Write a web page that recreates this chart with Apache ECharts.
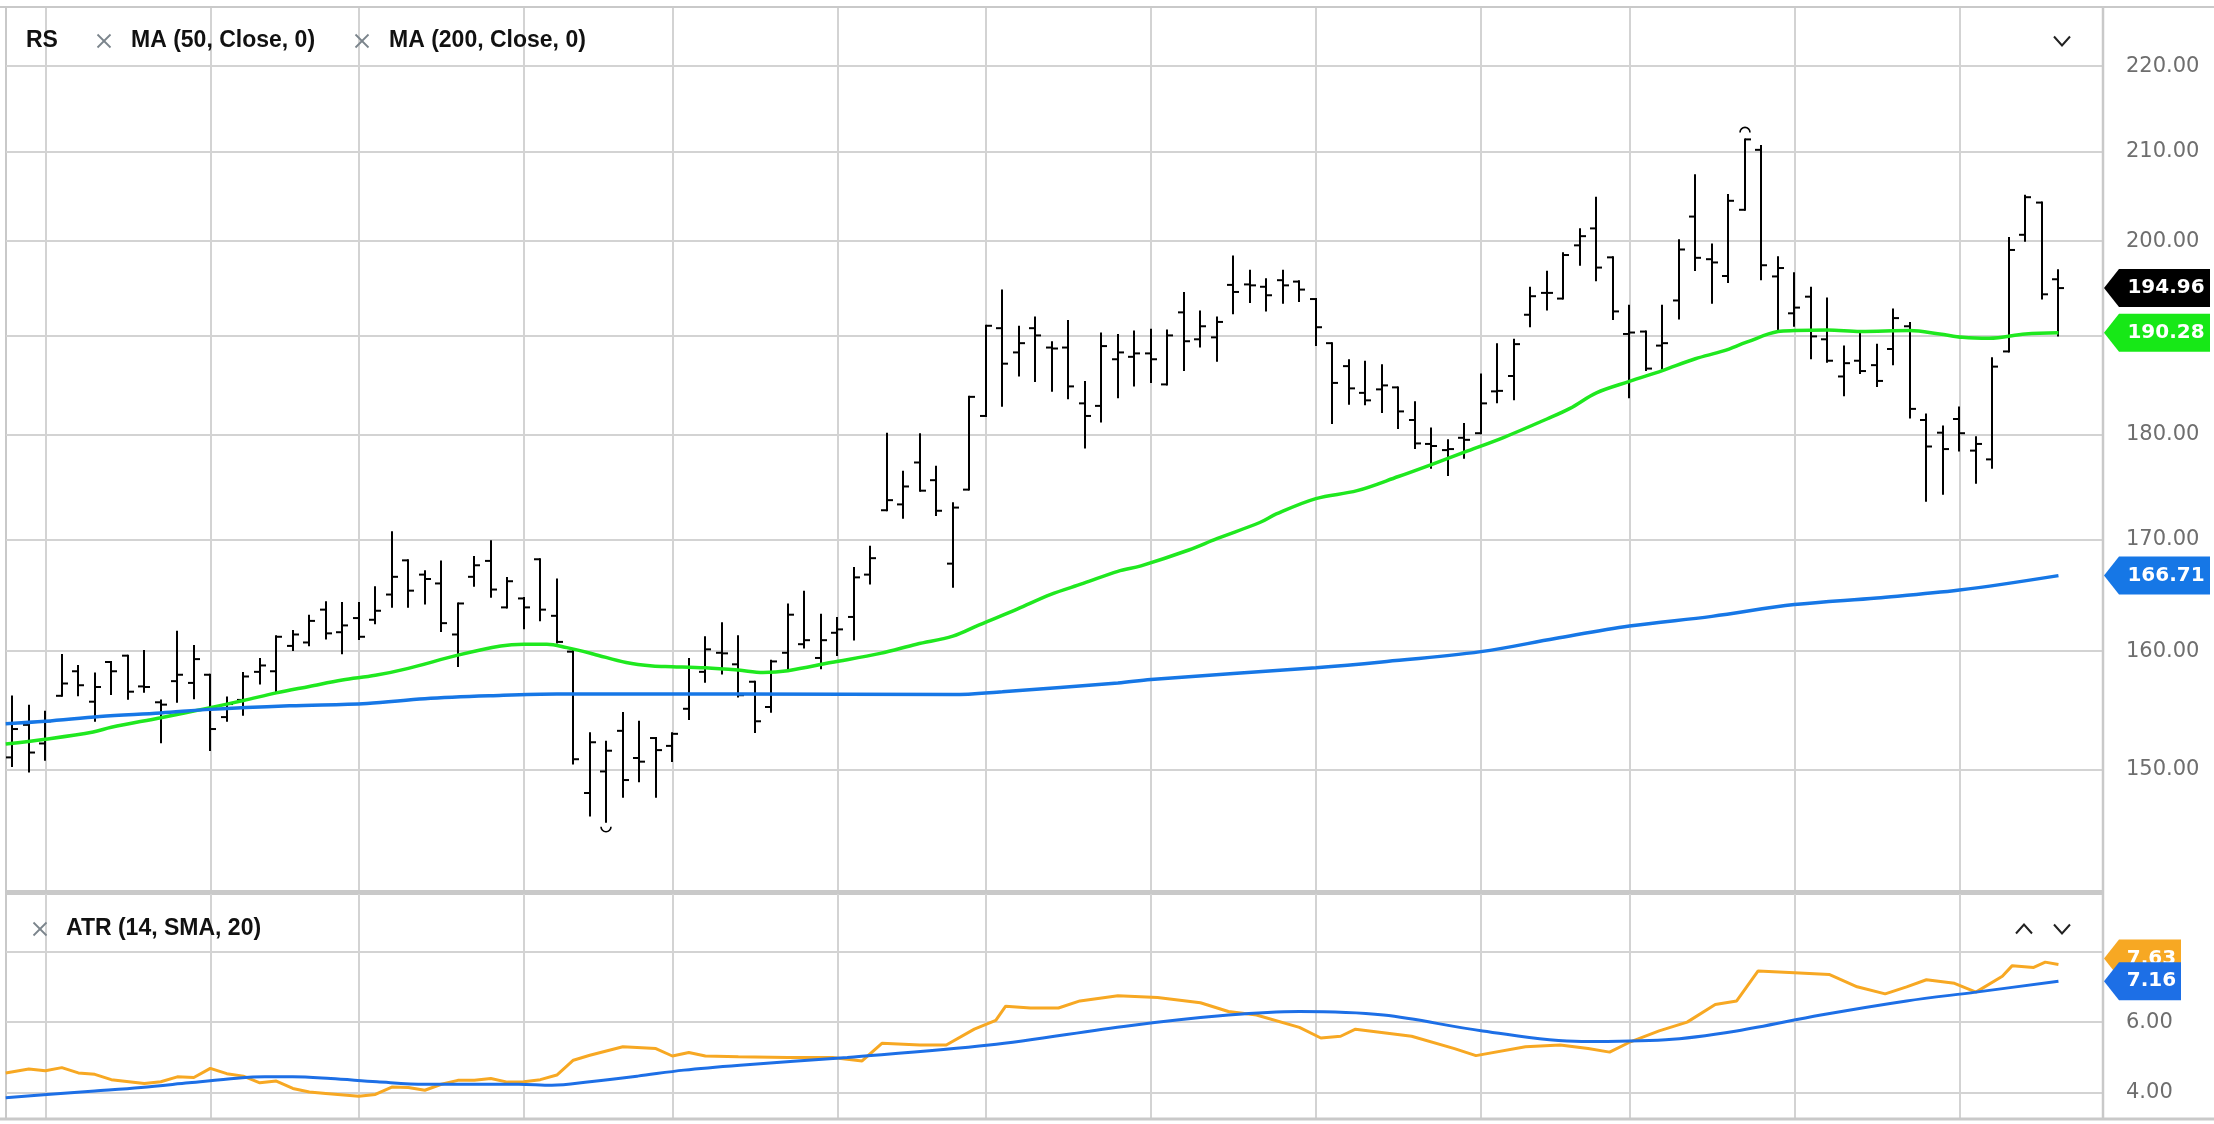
<!DOCTYPE html>
<html><head><meta charset="utf-8">
<script src="https://cdn.jsdelivr.net/npm/echarts@6/dist/echarts.min.js"></script>
<style>html,body{margin:0;padding:0;background:#fff;overflow:hidden}#c{width:2214px;height:1124px}</style>
</head><body><div id="c"></div>
<script>
// ---- Data (bar index 0..124) ----
const opens = [151.0,153.7,152.15,156.15,158.25,155.65,159.05,159.6,156.95,155.6,157.4,157.25,157.95,154.35,155.8,158.2,158.25,160.45,160.75,163.65,161.65,162.9,162.75,165.0,168.1,166.8,166.0,161.45,166.6,168.05,163.85,164.65,168.2,163.1,159.95,148.1,149.85,153.2,150.95,152.6,151.95,155.05,158.2,159.85,158.85,157.35,155.2,159.85,160.6,159.4,161.6,163.0,166.8,172.75,173.3,177.3,175.6,167.8,174.7,181.85,190.75,188.25,190.75,188.75,188.75,183.1,182.85,187.55,187.8,188.15,185.0,192.4,189.6,189.8,195.3,195.35,195.1,195.8,195.65,193.8,189.2,186.85,184.15,184.5,184.7,181.45,179.1,178.5,179.7,180.15,184.3,185.85,192.15,194.45,193.85,199.55,201.4,198.25,190.15,190.4,188.95,193.65,202.7,198.05,196.25,203.45,210.2,196.2,192.3,194.05,189.6,185.8,187.4,186.95,188.6,190.95,181.45,180.2,181.55,178.45,177.6,188.35,200.7,204.25,195.9];
const highs = [156.1,155.3,154.8,159.65,158.7,158.05,159.05,159.6,160.0,155.75,161.7,160.45,157.95,156.0,158.1,159.3,161.3,161.75,163.1,164.3,164.25,164.25,165.65,170.7,168.1,167.1,168.0,164.2,168.4,169.85,166.5,164.7,168.2,166.35,160.0,153.0,152.3,154.7,153.95,152.6,153.0,159.3,161.2,162.45,161.3,157.35,159.15,164.1,165.25,163.2,162.9,167.4,169.35,180.1,176.4,180.05,176.9,173.4,183.75,191.0,194.7,190.9,191.85,189.3,191.5,185.25,190.2,190.05,190.4,190.6,190.5,194.45,192.5,191.85,198.35,196.8,195.9,196.8,195.7,193.8,189.2,187.45,187.3,186.95,184.7,183.2,180.6,179.45,181.05,186.0,189.1,189.55,195.0,196.7,198.7,201.3,204.8,198.25,193.1,190.4,193.1,200.1,207.3,199.65,205.1,211.4,210.65,198.25,196.55,195.0,193.85,188.85,190.2,189.05,192.7,191.3,182.0,180.8,182.7,179.75,187.65,200.35,205.0,204.25,196.85];
const lows = [150.3,149.85,150.8,156.15,156.2,154.05,156.3,155.9,156.5,152.25,155.65,155.95,151.6,154.05,154.55,157.2,156.5,160.1,160.5,161.1,159.8,161.05,162.45,163.9,163.9,164.2,161.75,158.7,165.8,164.8,163.85,162.0,162.7,160.75,150.5,146.3,145.8,147.8,149.05,147.8,150.7,154.2,157.35,158.05,156.1,153.1,154.8,158.35,160.3,158.5,159.65,161.0,166.0,172.75,172.05,174.6,172.3,165.7,174.7,181.85,182.85,185.9,185.35,184.35,183.6,178.75,181.3,183.7,184.9,185.25,185.0,186.45,188.85,187.4,192.3,193.5,192.6,193.4,193.6,189.0,181.15,183.05,183.0,182.25,180.65,178.7,176.8,176.1,177.75,180.15,183.2,183.5,190.95,192.7,193.85,197.45,195.8,191.7,183.7,186.45,186.6,191.75,196.9,193.4,195.6,203.45,195.9,190.5,191.0,187.65,187.3,183.9,186.15,184.85,187.05,181.7,173.65,174.3,178.45,175.35,176.8,188.35,200.05,193.85,190.0];
const closes = [153.35,151.4,154.0,157.2,157.05,156.9,158.25,156.5,156.9,155.4,157.95,159.3,153.35,155.45,157.8,158.75,161.25,161.45,162.65,161.55,162.25,161.25,163.55,166.6,165.35,166.4,162.45,164.2,167.65,165.45,166.2,163.85,163.65,160.8,150.85,152.25,151.55,149.15,150.65,151.6,152.95,158.55,160.15,159.8,156.2,154.0,159.1,163.2,160.95,160.95,161.9,166.55,168.3,173.7,175.0,174.6,172.7,173.0,183.75,191.0,187.1,189.2,190.0,188.65,184.8,181.85,188.9,188.25,188.15,187.55,190.0,189.4,190.95,191.4,194.55,195.25,194.2,195.25,194.8,190.85,185.15,184.6,183.4,184.9,182.3,179.15,178.9,178.6,179.5,183.1,184.35,189.1,194.1,194.45,198.5,200.55,197.15,192.5,190.3,186.6,189.2,199.1,198.2,197.7,204.45,211.4,197.4,197.1,192.9,189.9,187.4,187.15,186.35,185.35,191.8,182.55,178.85,178.6,180.15,179.1,186.8,199.05,204.85,194.3,194.96];

// moving averages as [bar index, value]
const ma50 = [[-0.4,152.1],[2,152.5],[4.9,153.1],[6,153.5],[9,154.3],[12,155.15],[14,155.75],[16,156.4],[18,156.95],[20,157.5],[22,157.9],[24,158.5],[27,159.65],[29.6,160.45],[31,160.6],[32.4,160.6],[33.6,160.3],[35.2,159.75],[37.2,159.0],[38.8,158.7],[40,158.65],[42,158.55],[44,158.35],[45.5,158.15],[47,158.3],[49.6,159.0],[52.6,159.8],[54.8,160.6],[57,161.3],[58.6,162.3],[60.9,163.7],[62.9,165.0],[64.9,166.0],[67,167.1],[68.4,167.6],[71.3,169.05],[73,170.1],[75.6,171.6],[76.6,172.4],[79,173.85],[81.5,174.6],[84,175.95],[86,177.1],[88,178.3],[90.4,179.75],[93,181.55],[94.4,182.6],[96,184.15],[98,185.3],[100,186.4],[102,187.6],[103.7,188.4],[105.1,189.3],[107,190.4],[108,190.5],[110,190.55],[112,190.4],[115,190.5],[116.8,190.15],[118.2,189.8],[119.8,189.7],[122,190.15],[124,190.28]];
const ma200 = [[-0.4,153.8],[2,154.0],[5.3,154.4],[9,154.7],[12,155.0],[16.8,155.3],[21.5,155.5],[25,155.9],[29,156.15],[33,156.3],[44,156.3],[57,156.25],[60,156.5],[67,157.25],[69,157.55],[79,158.55],[83,159.05],[89,159.95],[93.5,161.1],[98,162.2],[103,163.05],[108,164.1],[113,164.7],[118,165.4],[124,166.71]];
const atr = [[-0.4,4.56],[1,4.67],[2,4.62],[3,4.71],[4,4.56],[5,4.52],[6,4.37],[8,4.26],[9,4.31],[10,4.45],[11,4.43],[12,4.69],[13,4.54],[14,4.47],[15,4.28],[16,4.33],[17,4.12],[18,4.02],[19,3.98],[21,3.90],[22,3.95],[23,4.16],[24,4.15],[25,4.07],[26,4.24],[27,4.35],[28,4.35],[29,4.40],[30,4.30],[31,4.31],[32,4.37],[33,4.50],[34,4.92],[35,5.06],[36,5.18],[37,5.30],[39,5.25],[40,5.04],[41,5.14],[42,5.04],[44,5.02],[47,5.0],[49.7,5.0],[51.5,4.9],[52.7,5.4],[55,5.35],[56.6,5.35],[58.3,5.8],[59.6,6.05],[60.2,6.45],[61.7,6.4],[63.4,6.4],[64.7,6.6],[67,6.75],[69.4,6.7],[72,6.55],[73.7,6.3],[75.4,6.2],[78,5.85],[79.3,5.55],[80.5,5.6],[81.4,5.8],[84.8,5.6],[87.4,5.25],[88.7,5.05],[91.7,5.3],[93.8,5.35],[95.5,5.25],[96.8,5.15],[98.1,5.45],[99.8,5.75],[101.5,6.0],[103.2,6.5],[104.5,6.6],[105.8,7.45],[108,7.4],[110.1,7.35],[111.8,7.0],[113.5,6.8],[114.8,7.0],[116,7.2],[117.7,7.1],[119,6.85],[120.6,7.3],[121.2,7.6],[122.5,7.55],[123.2,7.7],[124,7.63]];
const atrSma = [[-0.4,3.86],[2.1,3.95],[5,4.05],[7.8,4.15],[10.7,4.28],[13.6,4.41],[15.3,4.45],[17,4.45],[19.3,4.40],[22.1,4.31],[25,4.24],[27.9,4.24],[30.7,4.24],[32.7,4.21],[35,4.31],[37.9,4.47],[40.7,4.64],[44.1,4.78],[50.6,5.0],[59.2,5.35],[67.7,5.9],[73.7,6.2],[78,6.3],[83.1,6.2],[89.1,5.75],[95.1,5.45],[100.2,5.5],[104.5,5.75],[109.6,6.2],[114.8,6.6],[119,6.85],[124,7.16]];

const priceTicks = [150,160,170,180,190,200,210,220];
const atrGridTicks = [4,6,8];
const atrLabelTicks = [4,6];
const dateGridIdx = [2,12,21,31,40,50,59,69,79,89,98,108,118];
const legendMain = ['RS','MA (50, Close, 0)','MA (200, Close, 0)'];
const legendLower = 'ATR (14, SMA, 20)';
const lastClose = 194.96, lastMa50 = 190.28, lastMa200 = 166.71, lastAtr = 7.63, lastAtrSma = 7.16;

// ---- styling ----
const C_GRID = '#d3d3d3', C_FRAME = '#c9c9c9';
const C_GREEN = '#1fe81f', C_BLUE = '#1677e6', C_ORANGE = '#f7a823', C_ABLUE = '#1d6fe6';
const LBL_FONT = 'DejaVu Sans';
const ZT = 100;

const ohlc = opens.map((o,i)=>[i,o,highs[i],lows[i],closes[i]]);
let loIdx = 0, hiIdx = 0;
lows.forEach((v,i)=>{ if (v < lows[loIdx]) loIdx = i; });
highs.forEach((v,i)=>{ if (v > highs[hiIdx]) hiIdx = i; });

function renderOHLC(params, api) {
  const i = api.value(0);
  const o = api.coord([i, api.value(1)]);
  const h = api.coord([i, api.value(2)]);
  const l = api.coord([i, api.value(3)]);
  const c = api.coord([i, api.value(4)]);
  const x = Math.round(h[0]);
  const st = {stroke:'#000', lineWidth:2};
  const t = 6;
  const ch = [
    {type:'line', shape:{x1:x, y1:h[1]-1, x2:x, y2:l[1]+1}, style:st},
    {type:'line', shape:{x1:x-t, y1:o[1], x2:x, y2:o[1]}, style:st},
    {type:'line', shape:{x1:x, y1:c[1], x2:x+t, y2:c[1]}, style:st}
  ];
  if (i === loIdx) ch.push({type:'arc', shape:{cx:x, cy:l[1]+5, r:5, startAngle:0, endAngle:Math.PI}, style:{stroke:'#000', fill:null, lineWidth:1.6}});
  if (i === hiIdx) ch.push({type:'arc', shape:{cx:x, cy:h[1]-7, r:5, startAngle:Math.PI, endAngle:2*Math.PI}, style:{stroke:'#000', fill:null, lineWidth:1.6}});
  return {type:'group', children:ch};
}

const chart = echarts.init(document.getElementById('c'));
const xCommon = {type:'value', min:-0.382, max:126.7,
  axisLine:{show:false}, axisTick:{show:false, customValues:dateGridIdx},
  axisLabel:{show:false, customValues:dateGridIdx},
  splitLine:{show:true, lineStyle:{color:C_GRID, width:2}}};
const option = {
  animation:false,
  backgroundColor:'#fff',
  grid:[
    {left:6, right:111, top:7, height:885, show:true, borderColor:C_FRAME, borderWidth:2},
    {left:6, right:111, top:894, height:225, show:true, borderColor:C_FRAME, borderWidth:2}
  ],
  xAxis:[Object.assign({gridIndex:0}, xCommon), Object.assign({gridIndex:1}, xCommon)],
  yAxis:[
    {type:'log', gridIndex:0, position:'right', min:140.33, max:227.2,
     axisLine:{show:false}, axisTick:{show:false, customValues:priceTicks},
     axisLabel:{customValues:priceTicks, formatter:v=>Number(v).toFixed(2), color:'#6e6e6e', fontFamily:LBL_FONT, fontSize:21, margin:23},
     splitLine:{show:true, lineStyle:{color:C_GRID, width:2}}},
    {type:'value', gridIndex:1, position:'right', min:3.255, max:9.63,
     axisLine:{show:false}, axisTick:{show:false, customValues:atrGridTicks},
     axisLabel:{customValues:atrLabelTicks, formatter:v=>Number(v).toFixed(2), color:'#6e6e6e', fontFamily:LBL_FONT, fontSize:21, margin:23},
     splitLine:{show:true, lineStyle:{color:C_GRID, width:2}}}
  ],
  series:[
    {type:'custom', name:'RS', xAxisIndex:0, yAxisIndex:0, data:ohlc, renderItem:renderOHLC, encode:{x:0, y:[1,2,3,4]}, z:2, silent:true},
    {type:'line', name:'MA50', xAxisIndex:0, yAxisIndex:0, data:ma50, smooth:0.35, showSymbol:false, lineStyle:{color:C_GREEN, width:3.5}, z:3, silent:true},
    {type:'line', name:'MA200', xAxisIndex:0, yAxisIndex:0, data:ma200, smooth:0.35, showSymbol:false, lineStyle:{color:C_BLUE, width:3.5}, z:3, silent:true},
    {type:'line', name:'ATR', xAxisIndex:1, yAxisIndex:1, data:atr, showSymbol:false, lineStyle:{color:C_ORANGE, width:3}, z:3, silent:true},
    {type:'line', name:'ATR SMA', xAxisIndex:1, yAxisIndex:1, data:atrSma, smooth:0.35, showSymbol:false, lineStyle:{color:C_ABLUE, width:3}, z:3, silent:true}
  ]
};
chart.setOption(option);

// ---- overlays: value tags, legends, icons ----
function yOf(grid, v){ return chart.convertToPixel({gridIndex:grid}, [0, v])[1]; }
const AX = 2103;
function tag(yc, w, fill, text, z){
  const h = 38, tip = 15;
  return {type:'group', z:z, children:[
    {type:'polygon', z:z, shape:{points:[[AX+1,yc],[AX+1+tip,yc-h/2],[AX+w,yc-h/2],[AX+w,yc+h/2],[AX+1+tip,yc+h/2]]}, style:{fill:fill}},
    {type:'text', z:z, style:{x:AX+tip+(w-tip)/2+2, y:yc, text:text, fill:'#fff', font:'bold 20px "DejaVu Sans"', align:'center', verticalAlign:'middle'}}
  ]};
}
function xIcon(cx, cy){
  const s = 6.5;
  return {type:'group', z:ZT, children:[
    {type:'line', z:ZT, shape:{x1:cx-s,y1:cy-s,x2:cx+s,y2:cy+s}, style:{stroke:'#7b848c', lineWidth:1.8}},
    {type:'line', z:ZT, shape:{x1:cx-s,y1:cy+s,x2:cx+s,y2:cy-s}, style:{stroke:'#7b848c', lineWidth:1.8}}
  ]};
}
function chev(cx, cy, up){
  const w = 8, hh = 4.5;
  const pts = up ? [[cx-w,cy+hh],[cx,cy-hh],[cx+w,cy+hh]] : [[cx-w,cy-hh],[cx,cy+hh],[cx+w,cy-hh]];
  return {type:'polyline', z:ZT, shape:{points:pts}, style:{stroke:'#222', lineWidth:2, fill:null}};
}
const LF = 'bold 23px "Liberation Sans", Arial, sans-serif';
const yC = yOf(0,lastClose), yG = yOf(0,lastMa50), yB = yOf(0,lastMa200);
const yA = yOf(1,lastAtr), yS = yOf(1,lastAtrSma);
const graphics = [
  {type:'line', z:ZT, shape:{x1:0,y1:7,x2:2214,y2:7}, style:{stroke:C_FRAME, lineWidth:2}},
  {type:'line', z:ZT, shape:{x1:0,y1:1119,x2:2214,y2:1119}, style:{stroke:C_FRAME, lineWidth:3}},
  {type:'line', z:ZT, shape:{x1:6,y1:892,x2:AX,y2:892}, style:{stroke:C_FRAME, lineWidth:4}},
  {type:'line', z:ZT, shape:{x1:AX,y1:7,x2:AX,y2:1119}, style:{stroke:C_FRAME, lineWidth:2.5}},
  {type:'text', z:ZT, style:{x:26, y:41, text:legendMain[0], font:LF, fill:'#111', verticalAlign:'middle'}},
  xIcon(104,41),
  {type:'text', z:ZT, style:{x:131, y:41, text:legendMain[1], font:LF, fill:'#111', verticalAlign:'middle'}},
  xIcon(362,41),
  {type:'text', z:ZT, style:{x:389, y:41, text:legendMain[2], font:LF, fill:'#111', verticalAlign:'middle'}},
  chev(2062,41,false),
  xIcon(40,929),
  {type:'text', z:ZT, style:{x:66, y:929, text:legendLower, font:LF, fill:'#111', verticalAlign:'middle'}},
  chev(2024,929,true),
  chev(2062,929,false),
  tag(yB, 107, C_BLUE, lastMa200.toFixed(2), ZT+1),
  tag(yG, 107, '#17e817', lastMa50.toFixed(2), ZT+2),
  tag(yC, 107, '#000', lastClose.toFixed(2), ZT+3),
  tag(yA - 6, 78, C_ORANGE, lastAtr.toFixed(2), ZT+4),
  tag(yS, 78, C_ABLUE, lastAtrSma.toFixed(2), ZT+5)
];
chart.setOption({graphic:graphics});
</script></body></html>
